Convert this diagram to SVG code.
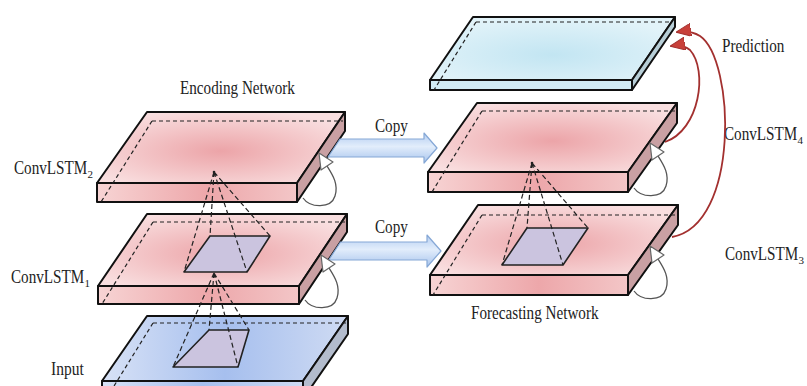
<svg xmlns="http://www.w3.org/2000/svg" width="807" height="386" viewBox="0 0 807 386">
<style>
.face{stroke:#111;stroke-width:2;stroke-linejoin:round}
.hid{fill:none;stroke:#222;stroke-width:1.2;stroke-dasharray:4 3}
.sq{fill:#cbc4df;stroke:#222;stroke-width:1.6;stroke-linejoin:round}
.lbl{font-family:"Liberation Serif","Times New Roman",serif;font-size:18.5px;fill:#222}
.sub{font-family:"Liberation Serif","Times New Roman",serif;font-size:11px;fill:#222}
.pyr{fill:none;stroke:#222;stroke-width:1.2;stroke-dasharray:5 3}
.loop{fill:none;stroke:#555;stroke-width:1.3}
.loophead{fill:#fff;stroke:#666;stroke-width:1.2;stroke-linejoin:round}
.red{fill:none;stroke:#a3302f;stroke-width:1.8}
.copy{fill:url(#copyG);stroke:#86a8d6;stroke-width:1.2;stroke-linejoin:round}
</style>
<defs>
<radialGradient id="pinkTop" cx="0.5" cy="0.55" r="0.6">
<stop offset="0" stop-color="#eca4a8"/><stop offset="1" stop-color="#f9dfe0"/>
</radialGradient>
<linearGradient id="pinkFront" x1="0" y1="0" x2="1" y2="0">
<stop offset="0" stop-color="#f7d4d4"/><stop offset="0.55" stop-color="#eda7aa"/><stop offset="1" stop-color="#f3c6c7"/>
</linearGradient>
<linearGradient id="blueTop" x1="0" y1="0" x2="1" y2="0">
<stop offset="0" stop-color="#d8e2f6"/><stop offset="0.5" stop-color="#a6bfee"/><stop offset="1" stop-color="#cfdbf3"/>
</linearGradient>
<radialGradient id="cyanTop" cx="0.5" cy="0.6" r="0.6">
<stop offset="0" stop-color="#c2e5f2"/><stop offset="1" stop-color="#e2f3f9"/>
</radialGradient>
<linearGradient id="copyG" x1="0" y1="0" x2="0" y2="1">
<stop offset="0" stop-color="#b3cdf1"/><stop offset="0.45" stop-color="#e2edfb"/><stop offset="1" stop-color="#a8c4ed"/>
</linearGradient>
<marker id="redHead" markerUnits="userSpaceOnUse" markerWidth="15" markerHeight="13" refX="14" refY="6.5" orient="auto">
<path d="M0,0 L15,6.5 L0,13 Z" fill="#c8403a" stroke="#a3302f" stroke-width="1"/>
</marker>
<g id="selfloop">
<path class="loop" d="M6,-4 C13,6 34,7 38,-6 C42,-18 35,-28 30,-36"/>
<path class="loophead" d="M22,-49 L36,-40 L24,-32 Z"/>
</g>
</defs>

<g id="node-convlstm2">
<polygon class="face" fill="url(#pinkTop)" points="147,112 345,112 297,183 97,183"/>
<rect class="face" fill="url(#pinkFront)" x="97" y="183" width="200" height="19"/>
<polygon class="face" fill="#c9a0a3" points="297,183 345,112 345,131 297,202"/>
<path class="hid" d="M152,121 H343 M152,121 L101,202"/>
<circle cx="214" cy="172" r="1.3" fill="#222"/>
</g>

<g id="node-convlstm1">
<polygon class="face" fill="url(#pinkTop)" points="147,214 347,214 299,286 98,286"/>
<rect class="face" fill="url(#pinkFront)" x="98" y="286" width="201" height="18"/>
<polygon class="face" fill="#c9a0a3" points="299,286 347,214 347,232 299,304"/>
<path class="hid" d="M153,222 H345 M153,222 L102,304"/>
<polygon class="sq" points="210,236 270,236 247,272 184,272"/>
</g>

<g id="node-input">
<polygon class="face" fill="url(#blueTop)" points="147,316 348,316 303,381 102,381"/>
<rect class="face" fill="url(#blueTop)" x="102" y="381" width="201" height="18"/>
<polygon class="face" fill="#b3bccd" points="303,381 348,316 348,334 303,399"/>
<path class="hid" d="M153,323 H346 M153,323 L106,399"/>
<polygon class="sq" points="209,330 249,330 238,367 173,367"/>
</g>

<g id="node-prediction">
<polygon class="face" fill="url(#cyanTop)" points="473,17 675,17 632,80 430,80"/>
<rect class="face" fill="#d0ebf4" x="430" y="80" width="202" height="10"/>
<polygon class="face" fill="#b7ced7" points="632,80 675,17 675,27 632,90"/>
<path class="hid" d="M476,22 H672 M476,22 L434,90"/>
</g>

<g id="node-convlstm4">
<polygon class="face" fill="url(#pinkTop)" points="477,103 677,103 628,172 428,172"/>
<rect class="face" fill="url(#pinkFront)" x="428" y="172" width="200" height="20"/>
<polygon class="face" fill="#c9a0a3" points="628,172 677,103 677,123 628,192"/>
<path class="hid" d="M482,111 H675 M482,111 L432,192"/>
<circle cx="532" cy="163" r="1.3" fill="#222"/>
</g>

<g id="node-convlstm3">
<polygon class="face" fill="url(#pinkTop)" points="478,205 678,205 628,275 430,275"/>
<rect class="face" fill="url(#pinkFront)" x="430" y="275" width="198" height="20"/>
<polygon class="face" fill="#c9a0a3" points="628,275 678,205 678,225 628,295"/>
<path class="hid" d="M482,215 H678 M482,215 L433,295"/>
<polygon class="sq" points="527,228 588,228 563,265 502,265"/>
</g>

<g id="labels">
<text class="lbl" transform="translate(180,94) scale(0.82,1)">Encoding Network</text>
<text class="lbl" transform="translate(14,174) scale(0.82,1)">ConvLSTM</text>
<text class="sub" x="87.5" y="178">2</text>
<text class="lbl" transform="translate(11,283) scale(0.82,1)">ConvLSTM</text>
<text class="sub" x="84.5" y="287">1</text>
<text class="lbl" transform="translate(51,375) scale(0.84,1)">Input</text>
<text class="lbl" transform="translate(375,132) scale(0.82,1)">Copy</text>
<text class="lbl" transform="translate(375,233) scale(0.82,1)">Copy</text>
<text class="lbl" transform="translate(722,52) scale(0.82,1)">Prediction</text>
<text class="lbl" transform="translate(724,140) scale(0.82,1)">ConvLSTM</text>
<text class="sub" x="797.5" y="144">4</text>
<text class="lbl" transform="translate(725,260) scale(0.82,1)">ConvLSTM</text>
<text class="sub" x="798.5" y="264">3</text>
<text class="lbl" transform="translate(471,319) scale(0.82,1)">Forecasting Network</text>
</g>

<g id="connectors">
<polygon class="copy" points="340,139 424,139 424,133 437,148 424,163 424,157 328,157"/>
<polygon class="copy" points="340.5,242 427,242 427,235 441,251 427,267 427,260 328.7,260"/>
<path class="pyr" d="M214,172 L210,236 M214,172 L270,236 M214,172 L247,272 M214,172 L184,272"/>
<path class="pyr" d="M214,273 L209,330 M214,273 L249,330 M214,273 L238,367 M214,273 L173,367"/>
<path class="pyr" d="M532,163 L527,228 M532,163 L588,228 M532,163 L563,265 M532,163 L502,265"/>
<use href="#selfloop" transform="translate(297,202)"/>
<use href="#selfloop" transform="translate(299,304)"/>
<use href="#selfloop" transform="translate(628,192)"/>
<use href="#selfloop" transform="translate(628,295)"/>
<path class="red" d="M665,142 C700,130 708,70 690,50 Q683,44 671,46" marker-end="url(#redHead)"/>
<path class="red" d="M672,237 C740,225 735,60 700,36 Q690,30 677,32" marker-end="url(#redHead)"/>
</g>
</svg>
